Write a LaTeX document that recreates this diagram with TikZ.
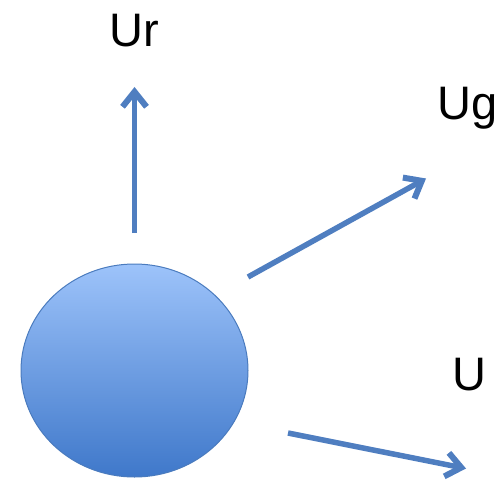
\documentclass[tikz,border=0pt]{standalone}
\usepackage{fontspec}
\setmainfont{Liberation Sans}
\usetikzlibrary{shapes.geometric,arrows.meta}
\definecolor{arrowblue}{HTML}{4F7EC0}
\definecolor{ballTop}{HTML}{9DC3FA}
\definecolor{ballBottom}{HTML}{3F78CA}
\definecolor{ballEdge}{HTML}{4A7BBE}
\tikzset{
  vec/.style={draw=arrowblue, line width=5.5pt, -{Straight Barb[length=15pt,width=24pt,line width=6pt]}},
  lbl/.style={font=\fontsize{47}{50}\selectfont, anchor=base, inner sep=0pt},
  ball/.style={ellipse, draw=ballEdge, line width=1pt, top color=ballTop, bottom color=ballBottom, minimum width=227pt, minimum height=213pt, inner sep=0pt}
}
\begin{document}
\begin{tikzpicture}[x=1pt,y=-1pt]
\useasboundingbox (0,0) rectangle (502,481);
\node[ball] (b) at (134.5,370.5) {};
\node[lbl] (ur) at (134,47) {Ur};
\node[lbl] (ug) at (468,120) {Ug};
\node[lbl] (u) at (469.5,390) {U};
\coordinate (s1) at (134.5,233);
\coordinate (t1) at (134.5,87);
\coordinate (s2) at (248,277);
\coordinate (t2) at (426,178.5);
\coordinate (s3) at (288,433);
\coordinate (t3) at (466,468.5);
\draw[vec] (s1) -- (t1);
\draw[vec] (s2) -- (t2);
\draw[vec] (s3) -- (t3);
\end{tikzpicture}
\end{document}
